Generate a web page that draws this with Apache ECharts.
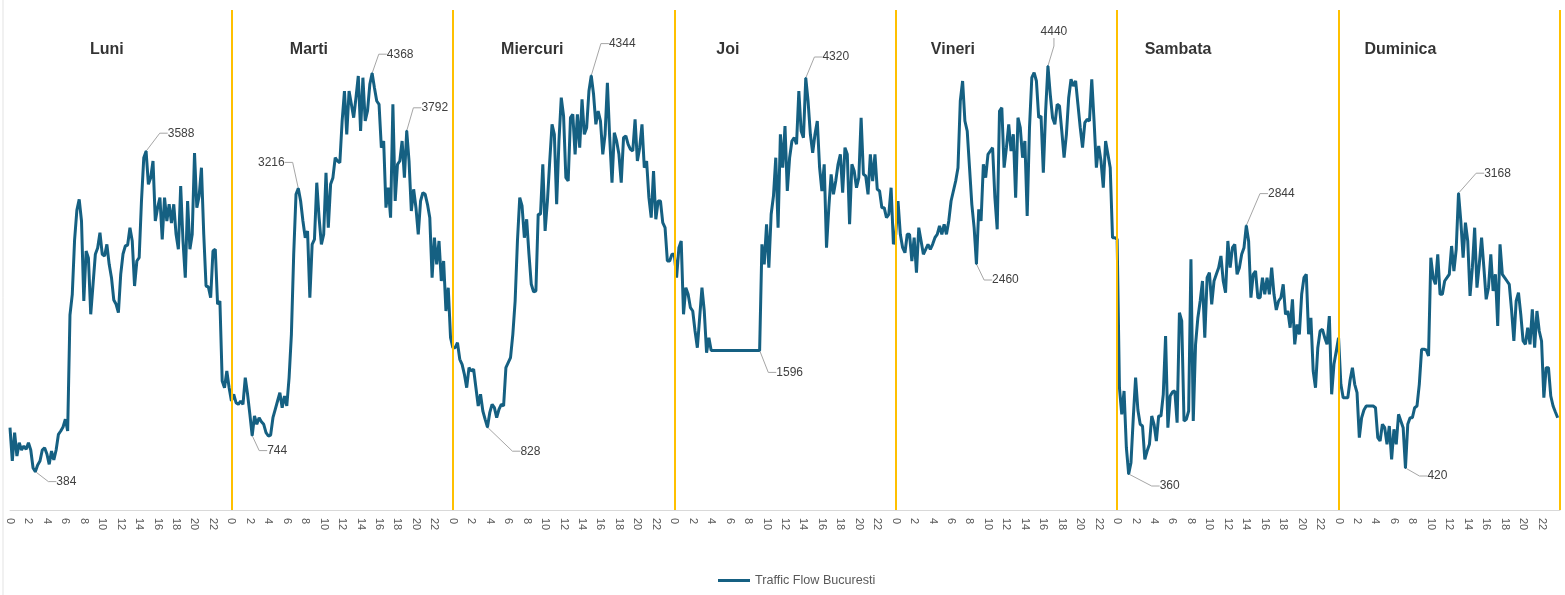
<!DOCTYPE html>
<html>
<head>
<meta charset="utf-8">
<script src="https://cdn.jsdelivr.net/npm/echarts@6/dist/echarts.min.js"></script>
<style>
html, body { margin: 0; padding: 0; background: #fff; }
#chart { width: 1565px; height: 595px; }
</style>
</head>
<body>
<div id="chart"></div>
<script>
// zilele saptamanii, cate 96 valori (la 15 minute) pe zi
var dayNames = ['Luni', 'Marti', 'Miercuri', 'Joi', 'Vineri', 'Sambata', 'Duminica'];

var luni = [823,490,773,540,673,600,640,607,673,600, 420,384,450,490,600,623,560,457,590,500,
    600,757,790,830,907,790,1950,2157,2700,3000, 3107,2890,2090,2590,2520,1957,2257,2557,2620,2773,
    2557,2540,2657,2457,2323,2100,2057,1973,2357,2560, 2640,2650,2823,2690,2240,2490,2523,3090,3523,3588,
    3257,3323,3490,2890,3023,3123,2707,3123,2890,3057, 2870,3057,2757,2607,3240,2690,2323,3090,2607,2757,
    3570,3023,3140,3423,2757,2240,2230,2123,2590,2607, 2057,2090,1290,1223,1390,1223];

var marti = [1090,1157,1073,1057,1090,1057,1323,1157,957,744, 940,857,923,883,857,773,740,750,923,1007,
    1090,1173,1023,1140,1040,1323,1757,2557,3157,3216, 3090,2890,2723,2790,2123,2657,2707,3273,2923,2657,
    2757,3373,2823,3257,3323,3523,3490,3473,3890,4190, 3757,4190,4057,3923,4123,4340,3790,4323,3890,3990,
    4257,4368,4223,4090,4057,3623,3690,3023,3223,2923, 4057,3090,3457,3490,3690,3323,3792,3490,2990,3207,
    3023,2757,3090,3173,3157,3057,2923,2323,2723,2457, 2690,2290,2490,1990,2223,1723];

var miercuri = [1623,1623,1673,1507,1457,1357,1223,1423,1390,1407, 1223,1040,1157,990,907,828,973,1057,1023,923,
    1007,1057,1040,1423,1473,1523,1757,2090,2690,3123, 3040,2723,2907,2557,2257,2183,2190,2957,2957,3457,
    2790,3090,3490,3857,3757,3057,3690,4123,3940,3323, 3290,3923,3957,3557,3957,3623,4107,3757,3823,4190,
    4344,4157,3857,3990,3890,3557,3757,4273,3723,3273, 3773,3690,3557,3273,3723,3740,3657,3607,3590,3907,
    3490,3623,3857,3423,3490,3123,2923,3390,2907,3090, 3090,2873,2823,2490,2490,2557];

var joi = [2557,2323,2623,2690,1957,2223,2157,2023,1990,1790, 1623,1923,2223,1990,1573,1723,
    1596,1596,1596,1596,1596,1596,1596,1596,1596,1596,1596,1596,1596,1596,1596,1596,1596,1596,1596,1596,1596,1596,
    2657,2457,2857,2423,2957,3140,3523,2823,3757,3423, 3840,3190,3523,3690,3723,3657,4190,3790,3723,4320,
    4090,3757,3573,3757,3890,3423,3190,3457,2623,3023, 3357,3157,3290,3457,3557,3173,3623,3557,2857,3457,
    3390,3223,3323,3923,3357,3340,3157,3557,3290,3557, 3207,3190,3023,3023,2923,2957,3223,2657];

var vineri = [2757,3090,2757,2623,2573,2757,2757,2490,2723,2373, 2823,2690,2557,2607,2657,2607,2657,2723,2757,2840,
    2757,2857,2757,2890,3090,3190,3290,3423,4090,4290, 3890,3790,3423,3057,2823,2460,3007,2890,3457,3323,
    3557,3590,3623,3123,2807,3990,4023,3423,3623,3857, 3590,3757,3123,3923,3823,3523,3690,2940,3823,4323,
    4373,4290,3923,3940,3373,3990,4440,4157,3923,3857, 4057,4040,3790,3523,3757,4123,4307,4240,4290,4057,
    3823,3623,3873,3907,3890,4307,3890,3423,3640,3490, 3223,3690,3557,3423,2723,2723];

var sambata = [2707,1223,957,1190,623,360,473,923,1323,1000, 857,840,507,590,657,940,857,690,940,940,
    1157,1740,823,1140,1180,1190,873,1973,1890,890, 907,990,2507,890,1657,1923,2090,2290,1723,2323,
    2373,2057,2290,2357,2423,2540,2290,2173,2690,2423, 2623,2657,2357,2423,2557,2623,2844,2690,2123,2357,
    2390,2123,2123,2323,2157,2323,2157,2423,2157,2000, 2090,2123,2257,1957,1990,1823,2107,1657,1857,1757,
    2157,2323,2357,1757,1923,1390,1223,1623,1790,1807, 1723,1657,1940,1157,1457,1590];

var duminica = [1723,1257,1123,1123,1123,1300,1423,1257,1173,723, 923,1000,1040,1040,1040,1040,1023,723,690,857,
    823,657,840,507,807,657,957,890,823,420, 857,923,923,1023,1040,1257,1607,1607,1600,1540,
    2523,2323,2257,2557,2157,2157,2290,2323,2357,2640, 2390,2607,3168,2890,2523,2873,2690,2140,2423,2823,
    2223,2457,2723,2423,2107,2223,2557,2190,2357,1840, 2657,2357,2323,2290,2257,2000,1690,2090,2173,1957,
    1690,1657,1823,1657,2007,1623,1990,1790,1690,1123, 1423,1423,1140,1040,980,923];

var week = [luni, marti, miercuri, joi, vineri, sambata, duminica];

// punctele etichetate: [zi, index, dx, dy] (dx/dy = deplasarea etichetei fata de punct)
var callouts = [
    [0, 11, 31, 10], [0, 59, 35, -18],
    [1, 9, 25, 15], [1, 29, -27, -26], [1, 61, 28, -19], [1, 76, 28, -23],
    [2, 15, 43, 24], [2, 60, 31, -32],
    [3, 37, 30, 22], [3, 57, 30, -21],
    [4, 35, 29, 16], [4, 66, 6, -34],
    [5, 5, 41, 12], [5, 56, 35, -32],
    [6, 29, 32, 8], [6, 52, 39, -20]
];
// unde sta titlul zilei (ore de la inceputul zilei)
var titleHour = [10.5, 8.4, 8.6, 5.8, 6.2, 6.6, 6.7];

var lineColor = '#156082';
var offsetByIndex = {};
var points = [];
week.forEach(function (day, d) {
    day.forEach(function (v, i) {
        points.push([d * 24 + i / 4, v]);
    });
});
var seriesData = points.map(function (p) { return p; });
callouts.forEach(function (c) {
    var k = c[0] * 96 + c[1];
    offsetByIndex[k] = [c[2], c[3]];
    seriesData[k] = {
        value: points[k],
        symbol: 'circle',
        symbolSize: 2,
        itemStyle: { color: lineColor },
        label: { show: true }
    };
});

var separators = [];
for (var d = 1; d <= 7; d++) {
    separators.push({ xAxis: d * 24 });
}

var chart = echarts.init(document.getElementById('chart'));
chart.setOption({
    animation: false,
    backgroundColor: '#ffffff',
    grid: { left: 10, right: 5, top: 10, bottom: 85, containLabel: false },
    graphic: [{
        type: 'line',
        shape: { x1: 3, y1: 0, x2: 3, y2: 595 },
        style: { stroke: '#e3e3e3', lineWidth: 1 },
        silent: true
    }],
    legend: {
        data: [{ name: 'Traffic Flow Bucuresti', icon: 'rect' }],
        top: 569,
        left: 713,
        itemWidth: 32,
        itemHeight: 3,
        itemGap: 5,
        textStyle: { color: '#595959', fontSize: 12.6, fontFamily: 'Liberation Sans' }
    },
    xAxis: {
        type: 'value',
        min: 0,
        max: 168,
        interval: 2,
        axisLine: { lineStyle: { color: '#d9d9d9' } },
        axisTick: { show: false },
        splitLine: { show: false },
        axisLabel: {
            rotate: -90,
            margin: 8,
            showMaxLabel: false,
            color: '#595959',
            fontSize: 11,
            fontFamily: 'Liberation Sans',
            formatter: function (v) { return String(v % 24); }
        }
    },
    yAxis: {
        type: 'value',
        min: 0,
        max: 5000,
        show: false,
        splitLine: { show: false }
    },
    series: [
        {
            name: 'separatoare',
            type: 'line',
            data: [],
            markLine: {
                silent: true,
                symbol: 'none',
                label: { show: false },
                lineStyle: { color: '#FFC000', width: 2, type: 'solid' },
                data: separators
            },
            z: 1
        },
        {
            name: 'Traffic Flow Bucuresti',
            type: 'line',
            data: seriesData,
            symbol: 'none',
            showSymbol: true,
            lineStyle: { color: lineColor, width: 3 },
            itemStyle: { color: lineColor },
            label: {
                show: false,
                color: '#404040',
                fontSize: 12,
                fontFamily: 'Liberation Sans',
                formatter: function (p) { return p.value[1]; }
            },
            labelLine: {
                show: true,
                length2: 8,
                lineStyle: { color: '#a6a6a6', width: 1 }
            },
            labelLayout: function (p) {
                var off = offsetByIndex[p.dataIndex];
                if (!off) return {};
                return {
                    x: p.rect.x + p.rect.width / 2 + off[0],
                    y: p.rect.y + p.rect.height / 2 + off[1],
                    align: 'center',
                    verticalAlign: 'middle'
                };
            },
            z: 3
        },
        {
            name: 'zile',
            type: 'scatter',
            silent: true,
            symbolSize: 1,
            itemStyle: { color: 'rgba(0,0,0,0)' },
            data: dayNames.map(function (n, d) {
                return { name: n, value: [d * 24 + titleHour[d], 4600] };
            }),
            label: {
                show: true,
                position: 'inside',
                formatter: '{b}',
                color: '#000000',
                fontSize: 16,
                fontWeight: 'bold',
                fontFamily: 'Liberation Sans'
            },
            z: 4
        }
    ]
});
</script>
</body>
</html>
